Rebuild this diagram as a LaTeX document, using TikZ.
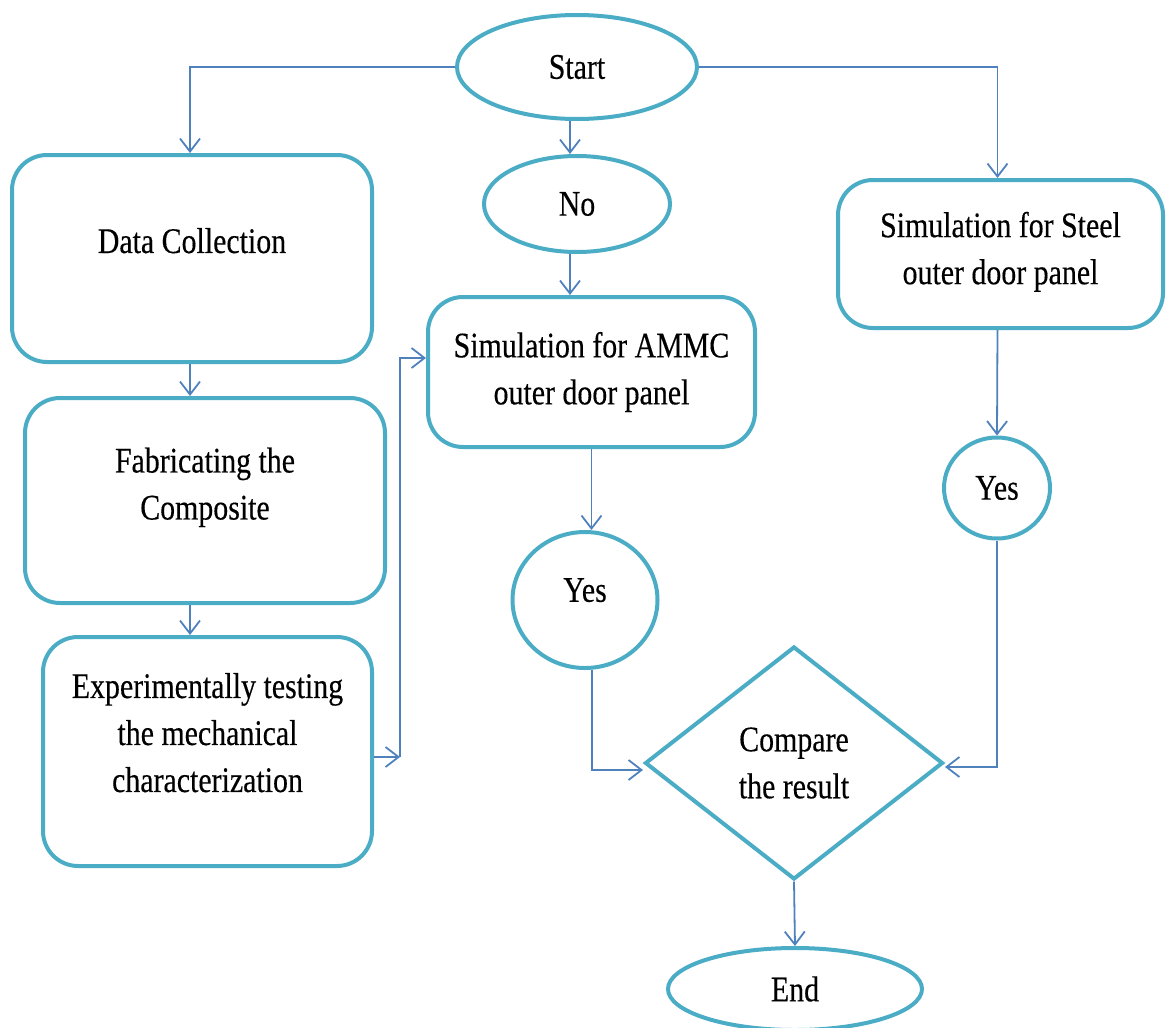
\documentclass[tikz,border=0pt]{standalone}
\usepackage{fontspec}
\setmainfont{Liberation Serif}[FakeStretch=0.83,FakeBold=0.3]
\usetikzlibrary{shapes.geometric,arrows.meta}
\definecolor{boxc}{HTML}{4BACC6}
\definecolor{linec}{HTML}{4F81BD}
\tikzset{
  every node/.style={font=\fontsize{36}{47}\selectfont, align=center, text=black},
  box/.style={draw=boxc, line width=4pt, rounded corners=35pt, inner sep=0pt},
  oval/.style={draw=boxc, line width=4pt, ellipse, inner sep=0pt},
  decision/.style={draw=boxc, line width=4pt, diamond, inner sep=0pt},
  conn/.style={draw=linec, line width=1.8pt},
  arr/.style={conn, -{Straight Barb[length=13pt,width=20pt,line width=1.8pt]}}
}
\begin{document}
\begin{tikzpicture}[x=1pt,y=-1pt]
\useasboundingbox (0,0) rectangle (1168,1028);
% nodes
\node[oval, minimum width=240pt, minimum height=104pt] (start) at (577,67) {Start};
\node[oval, minimum width=186pt, minimum height=96pt] (no) at (577,204) {No};
\node[box, minimum width=360pt, minimum height=207pt, text depth=36pt] (dc) at (192,258.5) {Data Collection};
\node[box, minimum width=360pt, minimum height=205pt, text depth=34pt] (fab) at (205,500.5) {Fabricating the\\Composite};
\node[box, minimum width=329pt, minimum height=229pt, text depth=38pt] (exp) at (207.5,751.5) {Experimentally testing\\the mechanical\\characterization};
\node[box, minimum width=327pt, minimum height=150pt] (ammc) at (591.5,372) {Simulation for AMMC\\outer door panel};
\node[box, minimum width=325pt, minimum height=148pt, text depth=12pt] (steel) at (1000.5,254) {Simulation for Steel\\outer door panel};
\node[oval, minimum width=145pt, minimum height=136pt, text depth=20pt] (yes1) at (585,600) {Yes};
\node[oval, minimum width=106pt, minimum height=101pt] (yes2) at (997,488) {Yes};
\node[decision, minimum width=298pt, minimum height=233pt] (cmp) at (794,763) {Compare\\the result};
\node[oval, minimum width=254pt, minimum height=82pt] (end) at (795,989) {End};
\coordinate (j1) at (400,757);
\coordinate (j2) at (400,358);
% connectors
\draw[arr] (start.west) -| ([xshift=-2pt]dc.north);
\draw[arr] (start.east) -| ([xshift=-3pt]steel.north);
\draw[arr] ([xshift=-7pt]start.south) -- ([xshift=-7pt]no.north);
\draw[arr] ([xshift=-7pt]no.south) -- ([xshift=-7pt]no.south |- ammc.north);
\draw[arr] (ammc.south) -- (ammc.south |- yes1.north);
\draw[arr] ([xshift=7pt]yes1.south) |- ([yshift=-7pt]cmp.west);
\draw[arr] (yes2.south) |- ([yshift=-4pt]cmp.east);
\draw[arr] ([xshift=-3pt]steel.south) -- (yes2.north);
\draw[arr] (cmp.south) -- (end.north);
\draw[arr] ([xshift=-2pt]dc.south) -- ([xshift=-2pt]dc.south |- fab.north);
\draw[arr] ([xshift=-2pt]dc.south |- fab.south) -- ([xshift=-2pt]dc.south |- exp.north);
\draw[arr] (exp.east |- j1) -- (j1);
\draw[arr] (j1) -- (j2) -- (j2 -| ammc.west);
\end{tikzpicture}
\end{document}
